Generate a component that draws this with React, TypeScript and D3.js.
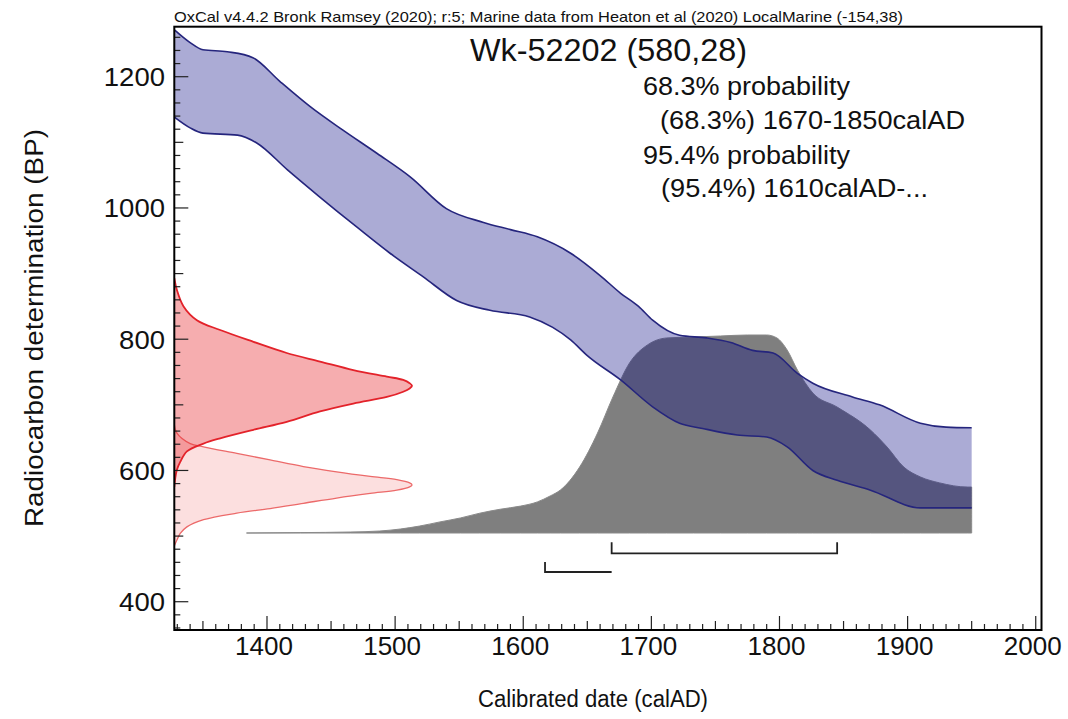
import React from 'react';
import * as d3 from 'd3';

const W = 1068;
const H = 719;
const FONT = '"Liberation Sans", Arial, Helvetica, sans-serif';

// Axis tick labels
const xTickLabels = [1400, 1500, 1600, 1700, 1800, 1900, 2000];
const yTickLabels = [400, 600, 800, 1000, 1200];

// Calibration curve (marine, local) - upper edge (calAD, BP)
const curveUpperYears = [1328, 1340, 1350, 1369, 1389, 1410, 1434, 1459, 1486, 1512, 1540, 1569, 1590, 1611, 1637, 1660, 1676, 1690, 1701, 1722, 1743, 1762, 1779, 1795, 1814, 1826, 1857, 1878, 1910, 1930, 1950];
const curveUpperBP = [1271, 1252, 1241, 1238, 1229, 1193, 1154, 1119, 1083, 1047, 999, 978, 967, 956, 931, 897, 870, 850, 829, 806, 802, 795, 783, 779, 748, 733, 712, 700, 672, 666, 665];

// Calibration curve - lower edge (calAD, BP)
const curveLowerYears = [1328, 1340, 1350, 1377, 1392, 1416, 1441, 1470, 1496, 1522, 1548, 1574, 1605, 1623, 1637, 1650, 1676, 1701, 1722, 1740, 1767, 1790, 1806, 1826, 1845, 1871, 1910, 1930, 1950];
const curveLowerBP = [1138, 1122, 1114, 1111, 1099, 1058, 1017, 971, 931, 895, 859, 844, 834, 818, 799, 775, 738, 697, 672, 664, 654, 651, 636, 600, 585, 570, 543, 543, 543];

// Calibrated posterior distribution (calAD, relative density)
const postYears = [1384, 1426, 1465, 1488, 1504, 1519, 1535, 1551, 1566, 1582, 1598, 1611, 1621, 1629, 1644, 1658, 1670, 1683, 1697, 1712, 1733, 1754, 1775, 1790, 1798, 1806, 1814, 1826, 1845, 1871, 1884, 1897, 1910, 1925, 1947, 1950, 1950];
const postDensity = [0, 0.002, 0.005, 0.01, 0.02, 0.035, 0.056, 0.076, 0.1, 0.12, 0.136, 0.157, 0.187, 0.217, 0.333, 0.505, 0.687, 0.859, 0.95, 0.985, 0.99, 0.995, 1.0, 1.0, 0.985, 0.924, 0.823, 0.707, 0.636, 0.52, 0.434, 0.333, 0.283, 0.253, 0.232, 0.232, 0];

// Radiocarbon date with reservoir offset (BP, relative density)
const c14BP = [893, 875, 850, 829, 814, 796, 779, 766, 753, 743, 738, 733, 729, 725, 720, 712, 702, 690, 674, 662, 649, 641, 629, 613, 601, 588, 575];
const c14Density = [0, 0.011, 0.039, 0.095, 0.193, 0.333, 0.473, 0.613, 0.753, 0.894, 0.963, 0.99, 1.0, 0.99, 0.963, 0.894, 0.753, 0.613, 0.473, 0.333, 0.193, 0.123, 0.053, 0.025, 0.011, 0.004, 0];

// Raw radiocarbon determination 580 +/- 28 (BP, relative density)
const rawBP = [670, 657, 641, 636, 626, 616, 606, 598, 591, 586, 581, 578, 575, 570, 565, 558, 550, 542, 535, 525, 514, 504, 494, 485];
const rawDensity = [0, 0.011, 0.067, 0.123, 0.263, 0.403, 0.543, 0.683, 0.824, 0.936, 0.99, 1.0, 0.99, 0.936, 0.824, 0.683, 0.543, 0.403, 0.263, 0.123, 0.053, 0.025, 0.011, 0];

// Probability ranges
const range68 = [1669, 1845];
const range95 = [1617, 1669];

const headerText = 'OxCal v4.4.2 Bronk Ramsey (2020); r:5; Marine data from Heaton et al (2020) LocalMarine (-154,38)';
const sampleTitle = 'Wk-52202 (580,28)';
const resultLines = ['68.3% probability', '(68.3%) 1670-1850calAD', '95.4% probability', '(95.4%) 1610calAD-...'];

export default function App() {
  const left = 174.3, right = 1041.5, top = 26.7, bottom = 630;
  const x = d3.scaleLinear().domain([1327.65, 2004.5]).range([left, right]);
  const y = d3.scaleLinear().domain([356.9, 1276.2]).range([bottom, top]);

  // posterior density height scale (in BP units on the y axis)
  const postBaseBP = 504.7;
  const postTopBP = 806.4;
  const postY = d3.scaleLinear().domain([0, 1]).range([y(postBaseBP), y(postTopBP)]);
  // red density width scale (in calAD units on x axis)
  const redX = d3.scaleLinear().domain([0, 1]).range([x(1327.65), x(1513.2)]);

  const upper = curveUpperYears.map((yr, i) => [x(yr), y(curveUpperBP[i])] as [number, number]);
  const lower = curveLowerYears.map((yr, i) => [x(yr), y(curveLowerBP[i])] as [number, number]);
  const lineGen = d3.line().curve(d3.curveMonotoneX);
  const upperPath = lineGen(upper) as string;
  const lowerPath = lineGen(lower) as string;
  const lowerRev = (d3.line().curve(d3.curveMonotoneX)(lower.slice().reverse()) as string).replace(/^M/, 'L');
  const bandPath = upperPath + lowerRev + 'Z';

  const postPts = postYears.map((yr, i) => ({ yr, d: postDensity[i] }));
  const postArea = d3.area<{ yr: number; d: number }>()
    .x(p => x(p.yr))
    .y0(postY(0))
    .y1(p => postY(p.d))
    .curve(d3.curveMonotoneX)(postPts) as string;

  const c14Pts = c14BP.map((bp, i) => ({ bp, d: c14Density[i] }));
  const rawPts = rawBP.map((bp, i) => ({ bp, d: rawDensity[i] }));
  const redArea = d3.area<{ bp: number; d: number }>()
    .y(p => y(p.bp))
    .x0(redX(0))
    .x1(p => redX(p.d))
    .curve(d3.curveCatmullRom);
  const redLine = d3.line<{ bp: number; d: number }>()
    .y(p => y(p.bp))
    .x(p => redX(p.d))
    .curve(d3.curveCatmullRom);

  const xMinor = d3.range(1330, 2001, 10);
  const yMinor = d3.range(360, 1276, 20);

  const b68Y = y(473.8);
  const b95Y = y(445.3);

  return (
    <svg width={W} height={H} style={{ position: 'absolute', left: 0, top: 0, background: '#fff' }} fontFamily={FONT}>
      <rect x={0} y={0} width={W} height={H} fill="#fff" />
      <defs>
        <clipPath id="plot">
          <rect x={left} y={top} width={right - left} height={bottom - top} />
        </clipPath>
      </defs>

      <g clipPath="url(#plot)">
        {/* posterior */}
        <path d={postArea} fill="#7f7f7f" stroke="#8a8a8a" strokeWidth={1} />
        {/* calibration band */}
        <path d={bandPath} fill="rgb(0,0,128)" fillOpacity={0.33} stroke="none" />
        <path d={upperPath} fill="none" stroke="#25257d" strokeWidth={1.6} />
        <path d={lowerPath} fill="none" stroke="#25257d" strokeWidth={1.6} />
        {/* raw date */}
        <path d={redArea(rawPts) as string} fill="rgb(240,110,110)" fillOpacity={0.22} />
        <path d={redLine(rawPts) as string} fill="none" stroke="#ec6a6a" strokeWidth={1.3} />
        {/* offset date */}
        <path d={redArea(c14Pts) as string} fill="rgb(232,50,55)" fillOpacity={0.4} />
        <path d={redLine(c14Pts) as string} fill="none" stroke="#e3222a" strokeWidth={1.8} />
      </g>

      {/* range brackets */}
      <path d={`M${x(range68[0])},${b68Y - 11}V${b68Y}H${x(range68[1])}V${b68Y - 11}`} fill="none" stroke="#222" strokeWidth={1.8} />
      <path d={`M${x(range95[0])},${b95Y - 10}V${b95Y}H${x(range95[1])}`} fill="none" stroke="#222" strokeWidth={1.8} />

      {/* ticks */}
      {xMinor.map(v => {
        const len = v % 100 === 0 ? 14 : v % 50 === 0 ? 9 : 6;
        return <line key={'xt' + v} x1={x(v)} x2={x(v)} y1={bottom} y2={bottom - len} stroke="#222" strokeWidth={1.2} />;
      })}
      {yMinor.map(v => {
        const len = v % 200 === 0 ? 14 : v % 100 === 0 ? 9 : 6;
        return <line key={'yt' + v} y1={y(v)} y2={y(v)} x1={left} x2={left + len} stroke="#222" strokeWidth={1.2} />;
      })}

      {/* frame */}
      <rect x={left} y={top} width={right - left} height={bottom - top} fill="none" stroke="#000" strokeWidth={2} />

      {/* tick labels */}
      {xTickLabels.map(v => (
        <text key={'xl' + v} x={x(v) - 3} y={655} fontSize={26} textAnchor="middle" fill="#111">{v}</text>
      ))}
      {yTickLabels.map(v => (
        <text key={'yl' + v} x={165} y={y(v) + 9.5} fontSize={26} textAnchor="end" fill="#111" textLength={String(v).length * 15.3} lengthAdjust="spacingAndGlyphs">{v}</text>
      ))}

      {/* axis titles */}
      <text x={593} y={707} fontSize={23} textAnchor="middle" fill="#111" textLength={230} lengthAdjust="spacingAndGlyphs">Calibrated date (calAD)</text>
      <text transform="translate(43,328) rotate(-90)" fontSize={26} textAnchor="middle" fill="#111" textLength={398} lengthAdjust="spacingAndGlyphs">Radiocarbon determination (BP)</text>

      {/* header */}
      <text x={174} y={22} fontSize={14.5} fill="#111" textLength={729} lengthAdjust="spacingAndGlyphs">{headerText}</text>

      {/* sample title and ranges */}
      <text x={470} y={61} fontSize={31} fill="#111" textLength={277} lengthAdjust="spacingAndGlyphs">{sampleTitle}</text>
      <text x={643} y={95} fontSize={25} fill="#111" textLength={207} lengthAdjust="spacingAndGlyphs">{resultLines[0]}</text>
      <text x={660} y={129} fontSize={25} fill="#111" textLength={305} lengthAdjust="spacingAndGlyphs">{resultLines[1]}</text>
      <text x={643} y={164} fontSize={25} fill="#111" textLength={207} lengthAdjust="spacingAndGlyphs">{resultLines[2]}</text>
      <text x={661} y={197} fontSize={25} fill="#111" textLength={267} lengthAdjust="spacingAndGlyphs">{resultLines[3]}</text>
    </svg>
  );
}
